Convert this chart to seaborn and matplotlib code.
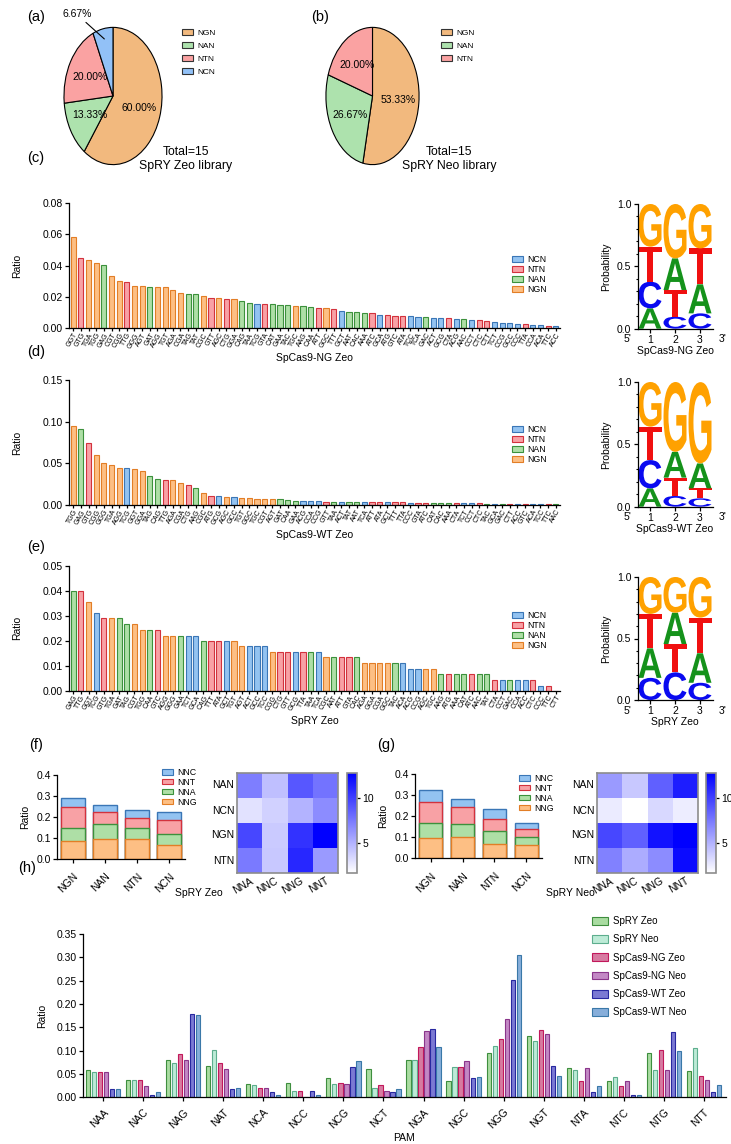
import numpy as np
import pandas as pd
import matplotlib
matplotlib.use("Agg")
import matplotlib.pyplot as plt
import seaborn as sns
from matplotlib.patches import Patch, PathPatch
from matplotlib.textpath import TextPath
from matplotlib.font_manager import FontProperties
from matplotlib.transforms import Affine2D
from matplotlib.colors import LinearSegmentedColormap

# ---------------- data ----------------
pie_a_labels = ["NGN", "NAN", "NTN", "NCN"]
pie_a_values = [60.00, 13.33, 20.00, 6.67]
pie_b_labels = ["NGN", "NAN", "NTN"]
pie_b_values = [53.33, 26.67, 20.00]

c_labels = ["GGT", "GTG", "TGA", "TGG", "GAG", "CGT", "CGG", "TTG", "GGG", "AGT", "GAT", "AGG", "TGT", "AGA",
            "CGA", "TAG", "TAT", "CGC", "GTT", "AGC", "CTG", "GGA", "CAG", "TAA", "TCG", "GTA", "CAT", "GAA",
            "TAC", "TGC", "AAG", "CAA", "ATT", "GGC", "TTT", "GCT", "AAT", "CAC", "AAA", "ATC", "GCA", "ATG",
            "GTC", "ATA", "TCC", "TCA", "GAC", "ACT", "GCG", "CTA", "ACG", "AAC", "CCT", "CTC", "CTT", "TCT",
            "CCG", "GCC", "CCC", "TTA", "CCA", "ACA", "TTC", "ACC"]
c_values = [0.0584, 0.0446, 0.0433, 0.0414, 0.0401, 0.0331, 0.0299, 0.0293, 0.0271, 0.0271, 0.0261, 0.0261,
            0.0261, 0.0242, 0.0223, 0.0218, 0.0218, 0.0204, 0.0195, 0.0193, 0.0189, 0.0184, 0.0172, 0.0161,
            0.0157, 0.0157, 0.0153, 0.0146, 0.0146, 0.0142, 0.0142, 0.0136, 0.0129, 0.0129, 0.0123, 0.0110,
            0.0104, 0.0104, 0.0097, 0.0096, 0.0085, 0.0085, 0.0078, 0.0078, 0.0078, 0.0072, 0.0072, 0.0066,
            0.0066, 0.0066, 0.0059, 0.0059, 0.0053, 0.0053, 0.0047, 0.0038, 0.0034, 0.0034, 0.0028, 0.0028,
            0.0021, 0.0021, 0.0017, 0.0012]

d_labels = ["TGG", "GAG", "GTG", "CGG", "GGG", "TGA", "AGG", "TCG", "GGT", "GGA", "TAG", "CAG", "TTG", "AGA",
            "CGA", "CTG", "AAG", "CGC", "ATG", "GCG", "AGC", "GCC", "TGT", "GGC", "TGC", "CGT", "AGT", "GAT",
            "CAA", "GAA", "ACG", "CCA", "CCG", "GTT", "TAA", "ACT", "TAT", "AAT", "TCA", "ATT", "ATA", "GCT",
            "TTT", "TTA", "CCC", "GTA", "ATC", "CAT", "CAC", "AAA", "CTA", "TCT", "CCT", "CTC", "TAC", "GCA",
            "GAC", "CTT", "ACC", "GTC", "ACA", "TCC", "TTC", "AAC"]
d_values = [0.0952, 0.0912, 0.0740, 0.0600, 0.0500, 0.0480, 0.0440, 0.0440, 0.0428, 0.0404, 0.0344, 0.0308,
            0.0296, 0.0296, 0.0264, 0.0244, 0.0200, 0.0144, 0.0104, 0.0104, 0.0092, 0.0092, 0.0080, 0.0080,
            0.0072, 0.0072, 0.0068, 0.0068, 0.0056, 0.0052, 0.0050, 0.0050, 0.0049, 0.0042, 0.0041, 0.0041,
            0.0040, 0.0040, 0.0039, 0.0036, 0.0036, 0.0033, 0.0031, 0.0031, 0.0030, 0.0030, 0.0029, 0.0027,
            0.0026, 0.0026, 0.0025, 0.0022, 0.0021, 0.0020, 0.0018, 0.0017, 0.0016, 0.0015, 0.0014, 0.0013,
            0.0012, 0.0011, 0.0009, 0.0007]

e_labels = ["GAG", "TTG", "GGT", "TCG", "GTG", "TGA", "GAT", "TAG", "CGT", "TGG", "CAA", "GTC", "AGG", "GGG",
            "GAA", "TCT", "GCA", "CAG", "TTT", "ATA", "GCT", "TGT", "AGT", "ACT", "GCC", "TCC", "CGG", "CTG",
            "GTT", "GCG", "TTA", "TAA", "TCA", "CGC", "AAT", "ATT", "GTA", "CAC", "AGA", "GGA", "CGA", "GGC",
            "TAC", "ACA", "ACG", "CCG", "AGC", "TGC", "AAG", "ATG", "AAA", "CAT", "ATC", "AAC", "TAT", "CTA",
            "CCT", "GAC", "CCA", "ACC", "CTC", "CCC", "TTC", "CTT"]
e_values = [0.0400, 0.0400, 0.0356, 0.0310, 0.0290, 0.0290, 0.0290, 0.0265, 0.0265, 0.0243, 0.0243, 0.0243,
            0.0220, 0.0220, 0.0220, 0.0220, 0.0220, 0.0200, 0.0200, 0.0200, 0.0200, 0.0200, 0.0177, 0.0177,
            0.0177, 0.0177, 0.0155, 0.0155, 0.0155, 0.0155, 0.0155, 0.0155, 0.0155, 0.0133, 0.0133, 0.0133,
            0.0133, 0.0133, 0.0109, 0.0109, 0.0109, 0.0109, 0.0109, 0.0109, 0.0087, 0.0087, 0.0087, 0.0087,
            0.0065, 0.0065, 0.0065, 0.0065, 0.0065, 0.0065, 0.0065, 0.0043, 0.0043, 0.0043, 0.0043, 0.0043,
            0.0043, 0.0020, 0.0020, 0.0000]

logo_letters = ["A", "C", "G", "T"]
logo_ng_zeo = {"A": [0.163, 0.254, 0.233], "C": [0.214, 0.096, 0.123],
               "G": [0.342, 0.436, 0.356], "T": [0.281, 0.214, 0.288]}
logo_wt_zeo = {"A": [0.147, 0.207, 0.200], "C": [0.227, 0.086, 0.067],
               "G": [0.358, 0.560, 0.652], "T": [0.268, 0.147, 0.080]}
logo_spry_zeo = {"A": [0.240, 0.255, 0.240], "C": [0.180, 0.225, 0.140],
                 "G": [0.300, 0.290, 0.330], "T": [0.280, 0.230, 0.290]}

stack_groups = ["NGN", "NAN", "NTN", "NCN"]
stack_layers = ["NNG", "NNA", "NNT", "NNC"]
zeo_nng = [0.085, 0.094, 0.093, 0.064]
zeo_nna = [0.063, 0.070, 0.052, 0.054]
zeo_nnt = [0.101, 0.058, 0.050, 0.067]
zeo_nnc = [0.043, 0.033, 0.038, 0.040]
neo_nng = [0.095, 0.098, 0.067, 0.060]
neo_nna = [0.072, 0.065, 0.063, 0.040]
neo_nnt = [0.100, 0.080, 0.057, 0.038]
neo_nnc = [0.057, 0.038, 0.046, 0.030]

heat_rows = ["NAN", "NCN", "NGN", "NTN"]
heat_cols = ["NNA", "NNC", "NNG", "NNT"]
heat_zeo = [[7.3, 4.5, 9.0, 7.8],
            [3.0, 3.7, 5.0, 6.7],
            [9.7, 4.0, 10.6, 12.8],
            [7.5, 4.1, 11.1, 6.1]]
heat_neo = [[6.1, 4.1, 8.6, 11.5],
            [2.6, 1.7, 3.4, 2.5],
            [9.7, 8.6, 12.0, 12.8],
            [7.2, 5.3, 6.7, 12.3]]

h_pams = ["NAA", "NAC", "NAG", "NAT", "NCA", "NCC", "NCG", "NCT",
          "NGA", "NGC", "NGG", "NGT", "NTA", "NTC", "NTG", "NTT"]
h_series = ["SpRY Zeo", "SpRY Neo", "SpCas9-NG Zeo", "SpCas9-NG Neo", "SpCas9-WT Zeo", "SpCas9-WT Neo"]
h_spry_zeo = [0.059, 0.037, 0.079, 0.068, 0.028, 0.031, 0.042, 0.061, 0.080, 0.034, 0.096, 0.131, 0.062, 0.036, 0.095, 0.056]
h_spry_neo = [0.054, 0.037, 0.074, 0.101, 0.026, 0.014, 0.028, 0.020, 0.080, 0.065, 0.110, 0.121, 0.059, 0.043, 0.058, 0.106]
h_ng_zeo = [0.054, 0.037, 0.093, 0.074, 0.019, 0.014, 0.031, 0.026, 0.107, 0.066, 0.124, 0.145, 0.034, 0.024, 0.101, 0.046]
h_ng_neo = [0.054, 0.024, 0.080, 0.061, 0.019, 0.000, 0.028, 0.014, 0.142, 0.077, 0.168, 0.136, 0.062, 0.034, 0.058, 0.037]
h_wt_zeo = [0.018, 0.005, 0.178, 0.017, 0.011, 0.014, 0.065, 0.011, 0.146, 0.041, 0.251, 0.067, 0.011, 0.006, 0.140, 0.012]
h_wt_neo = [0.018, 0.011, 0.176, 0.021, 0.005, 0.004, 0.078, 0.017, 0.107, 0.043, 0.306, 0.046, 0.025, 0.006, 0.099, 0.026]

# ---------------- styles ----------------
W, H = 731, 1144
sns.set_theme(style="ticks")
plt.rcParams["font.family"] = ["Liberation Sans", "DejaVu Sans"]
plt.rcParams.update({
    "axes.linewidth": 0.9, "xtick.major.width": 0.9, "ytick.major.width": 0.9,
    "xtick.major.size": 3, "ytick.major.size": 3, "xtick.major.pad": 1.5, "ytick.major.pad": 1.5,
    "font.size": 7.5, "xtick.labelsize": 7.5, "ytick.labelsize": 7.5, "axes.labelsize": 7.5,
    "axes.edgecolor": "black", "xtick.color": "black", "ytick.color": "black", "text.color": "black",
    "axes.labelcolor": "black", "legend.frameon": False,
})

cls_fill = {"NGN": "#FDBF84", "NAN": "#AEDFA6", "NTN": "#F8A1A5", "NCN": "#93C3F1"}
cls_edge = {"NGN": "#E27E26", "NAN": "#3C913C", "NTN": "#D3323D", "NCN": "#3A76B6"}
pie_fill = {"NGN": "#F2B97E", "NAN": "#ADE2AD", "NTN": "#FAA2A2", "NCN": "#92C1F7"}
layer_fill = {"NNG": "#FDBF84", "NNA": "#AEDFA6", "NNT": "#F8A1A5", "NNC": "#93C3F1"}
layer_edge = {"NNG": "#E27E26", "NNA": "#3C913C", "NNT": "#D3323D", "NNC": "#3A76B6"}
h_fill = ["#A9DCA1", "#BDEBD7", "#D77BA1", "#C388C5", "#7B79D3", "#87AEDA"]
h_edge = ["#3E8E3E", "#5DAE8E", "#C2185B", "#8A358A", "#2828A0", "#3A78A8"]
logo_colors = {"A": "#15921B", "C": "#0A0AF0", "G": "#FFA100", "T": "#F01010"}

fig = plt.figure(figsize=(W / 100, H / 100), dpi=100)


def rect(x0, y0, x1, y1):
    return [x0 / W, 1 - y1 / H, (x1 - x0) / W, (y1 - y0) / H]


def fig_xy(x, y):
    return (x / W, 1 - y / H)


def panel_label(txt, x, y):
    fig.text(x / W, 1 - y / H, txt, fontsize=10.5, ha="center", va="center")


# ---------------- pies ----------------
def draw_pie(box, labels, values, leg_xy, text_xy, lib):
    ax = fig.add_axes(rect(*box))
    cols = [pie_fill[l] for l in labels]
    wedges, texts, autotexts = ax.pie(
        values, colors=cols, startangle=90, counterclock=False,
        wedgeprops=dict(edgecolor="black", linewidth=0.8),
        autopct=lambda p: f"{p:.2f}%" if p > 10 else "", pctdistance=0.55,
        textprops=dict(fontsize=7.5))
    ax.set_aspect("auto")
    ax.set_xlim(-1.02, 1.02)
    ax.set_ylim(-1.02, 1.02)
    handles = [Patch(facecolor=pie_fill[l], edgecolor="#333333", linewidth=0.8, label=l) for l in labels]
    fig.legend(handles=handles, loc="upper left", bbox_to_anchor=fig_xy(*leg_xy), fontsize=6,
               handlelength=1.3, handleheight=0.75, labelspacing=0.6, handletextpad=0.6,
               borderpad=0, borderaxespad=0)
    fig.text(*fig_xy(text_xy[0], text_xy[1]), "Total=15", fontsize=8.8, ha="center", va="center")
    fig.text(*fig_xy(text_xy[0], text_xy[1] + 14), lib, fontsize=8.8, ha="center", va="center")
    return ax, wedges


ax_a, wa = draw_pie((63, 26, 163, 166), pie_a_labels, pie_a_values, (182, 29), (186, 152), "SpRY Zeo library")
ang = np.deg2rad((wa[3].theta1 + wa[3].theta2) / 2)
ax_a.annotate(f"{pie_a_values[3]:.2f}%", xy=(0.85 * np.cos(ang), 0.85 * np.sin(ang)), xytext=(-0.74, 1.12),
              ha="center", va="bottom", fontsize=7.5, annotation_clip=False,
              arrowprops=dict(arrowstyle="-", color="black", lw=0.8, shrinkA=0, shrinkB=0))
ax_b, wb = draw_pie((325, 26, 420, 166), pie_b_labels, pie_b_values, (441, 29), (449, 152), "SpRY Neo library")
panel_label("(a)", 36, 17)
panel_label("(b)", 320, 17)


# ---------------- ranked bars ----------------
def ranked_bar(box, labels, values, ymax, ystep, xlabel, leg_xy):
    ax = fig.add_axes(rect(*box))
    classes = ["N" + l[1] + "N" for l in labels]
    df = pd.DataFrame({"pam": labels, "ratio": values, "cls": classes})
    sns.barplot(data=df, x="pam", y="ratio", hue="cls", order=labels,
                hue_order=["NCN", "NTN", "NAN", "NGN"], palette=cls_fill, dodge=False,
                width=0.68, saturation=1, linewidth=0.8, errorbar=None, legend=False, ax=ax)
    for p in ax.patches:
        i = int(round(p.get_x() + p.get_width() / 2))
        p.set_edgecolor(cls_edge[classes[i]])
    ax.set_xlim(-0.55, len(labels) - 0.45)
    ax.set_ylim(0, ymax)
    ticks = np.arange(0, ymax + 1e-9, ystep)
    ax.set_yticks(ticks)
    ax.set_yticklabels([f"{t:.2f}" for t in ticks])
    ax.tick_params(axis="x", labelsize=5, rotation=60, length=2, pad=0.5)
    for t in ax.get_xticklabels():
        t.set_ha("right")
        t.set_rotation_mode("anchor")
    ax.set_xlabel(xlabel, fontsize=7.5)
    ax.set_ylabel("Ratio", fontsize=7.5)
    ax.yaxis.set_label_coords(-0.095, 0.5)
    ax.xaxis.set_label_coords(0.5, -0.2)
    sns.despine(ax=ax)
    handles = [Patch(facecolor=cls_fill[c], edgecolor=cls_edge[c], linewidth=0.8, label=c)
               for c in ["NCN", "NTN", "NAN", "NGN"]]
    fig.legend(handles=handles, loc="upper left", bbox_to_anchor=fig_xy(*leg_xy), fontsize=6.3,
               handlelength=1.2, handleheight=0.6, labelspacing=0.12, handletextpad=0.5,
               borderpad=0, borderaxespad=0)
    return ax


ranked_bar((69, 202.7, 560, 328.3), c_labels, c_values, 0.08, 0.02, "SpCas9-NG Zeo", (512, 255))
ranked_bar((69, 380, 560, 505), d_labels, d_values, 0.15, 0.05, "SpCas9-WT Zeo", (512, 425))
ranked_bar((69, 565.7, 560, 690.7), e_labels, e_values, 0.05, 0.01, "SpRY Zeo", (512, 611))
panel_label("(c)", 36, 158)
panel_label("(d)", 36, 352)
panel_label("(e)", 36, 547)

# ---------------- logos ----------------
logo_fp = FontProperties(family="Liberation Sans", weight="bold")


def draw_logo(box, probs, xlabel):
    ax = fig.add_axes(rect(*box))
    df = pd.DataFrame(probs, index=[1, 2, 3])
    for pos, row in df.iterrows():
        y0 = 0.0
        for letter in row.sort_values().index:
            h = row[letter]
            tp = TextPath((0, 0), letter, size=1, prop=logo_fp)
            bb = tp.get_extents()
            tr = (Affine2D().translate(-bb.x0, -bb.y0)
                  .scale(0.92 / bb.width, h / bb.height)
                  .translate(pos - 0.46, y0))
            ax.add_patch(PathPatch(tr.transform_path(tp), facecolor=logo_colors[letter],
                                   edgecolor="none"))
            y0 += h
    ax.set_xlim(0.5, 3.5)
    ax.set_ylim(0, 1)
    ax.set_xticks([1, 2, 3])
    ax.set_yticks([0, 0.5, 1.0])
    ax.set_yticklabels(["0.0", "0.5", "1.0"])
    ax.set_yticks(np.arange(0, 1.01, 0.1), minor=True)
    ax.tick_params(axis="y", which="minor", length=1.8, width=0.8)
    ax.text(-0.13, -0.045, "5'", transform=ax.transAxes, ha="center", va="top", fontsize=7.5)
    ax.text(1.13, -0.045, "3'", transform=ax.transAxes, ha="center", va="top", fontsize=7.5)
    ax.set_ylabel("Probability", fontsize=7.5)
    ax.set_xlabel(xlabel, fontsize=7.5, labelpad=0.5)
    sns.despine(ax=ax)
    return ax


draw_logo((637.5, 204, 712.5, 328.7), logo_ng_zeo, "SpCas9-NG Zeo")
draw_logo((637.5, 382, 712.5, 506.7), logo_wt_zeo, "SpCas9-WT Zeo")
draw_logo((637.5, 577, 712.5, 700), logo_spry_zeo, "SpRY Zeo")


# ---------------- stacked bars + heatmaps ----------------
def stacked(box, layers, leg_xy, lab_xy, libname):
    ax = fig.add_axes(rect(*box))
    cum = np.cumsum(np.array(layers), axis=0)
    for k in range(len(stack_layers) - 1, -1, -1):
        name = stack_layers[k]
        sns.barplot(x=stack_groups, y=cum[k], color=layer_fill[name], edgecolor=layer_edge[name],
                    linewidth=1.0, width=0.72, saturation=1, errorbar=None, ax=ax)
    ax.set_xlim(-0.5, 3.5)
    ax.set_ylim(0, 0.4)
    ax.set_yticks([0, 0.1, 0.2, 0.3, 0.4])
    ax.set_yticklabels(["0.0", "0.1", "0.2", "0.3", "0.4"])
    ax.tick_params(axis="x", rotation=45, pad=6)
    for t in ax.get_xticklabels():
        t.set_ha("right")
        t.set_rotation_mode("anchor")
    ax.set_ylabel("Ratio")
    ax.yaxis.set_label_coords(-0.21, 0.5)
    sns.despine(ax=ax)
    handles = [Patch(facecolor=layer_fill[c], edgecolor=layer_edge[c], linewidth=0.8, label=c)
               for c in ["NNC", "NNT", "NNA", "NNG"]]
    fig.legend(handles=handles, loc="upper left", bbox_to_anchor=fig_xy(*leg_xy), fontsize=6.3,
               handlelength=1.2, handleheight=0.55, labelspacing=0.1, handletextpad=0.5,
               borderpad=0, borderaxespad=0)
    fig.text(*fig_xy(*lab_xy), libname, fontsize=7.5, ha="center", va="center")
    return ax


heat_cmap = LinearSegmentedColormap.from_list("wb", ["#FFFFFF", "#0000FF"])


def heat(box, cbox, values):
    ax = fig.add_axes(rect(*box))
    cax = fig.add_axes(rect(*cbox))
    df = pd.DataFrame(values, index=heat_rows, columns=heat_cols)
    sns.heatmap(df, cmap=heat_cmap, vmin=1.7, vmax=12.8, ax=ax, cbar_ax=cax,
                cbar_kws=dict(ticks=[5, 10]))
    for s in ax.spines.values():
        s.set_visible(True)
        s.set_color("#8C8C8C")
        s.set_linewidth(1.2)
    ax.tick_params(length=0, pad=2)
    ax.set_yticklabels(heat_rows, rotation=0)
    ax.set_xticklabels(heat_cols, rotation=30, ha="right", rotation_mode="anchor")
    cax.tick_params(labelsize=7.5, length=2.5)
    cb = ax.collections[0].colorbar
    cb.outline.set_edgecolor("#8C8C8C")
    cb.outline.set_linewidth(1.2)
    return ax


stacked((57, 775, 185, 858.7), [zeo_nng, zeo_nna, zeo_nnt, zeo_nnc], (162, 768), (199, 893), "SpRY Zeo")
heat((237, 773, 338, 873), (347, 773, 357, 873), heat_zeo)
stacked((415, 774, 542, 858), [neo_nng, neo_nna, neo_nnt, neo_nnc], (519, 774), (570, 893), "SpRY Neo")
heat((597, 773, 698, 873), (706, 773, 716, 873), heat_neo)
panel_label("(f)", 36, 745)
panel_label("(g)", 386, 745)

# ---------------- grouped bars (h) ----------------
axh = fig.add_axes(rect(83, 934, 726, 1097.3))
h_vals = [h_spry_zeo, h_spry_neo, h_ng_zeo, h_ng_neo, h_wt_zeo, h_wt_neo]
dfh = pd.DataFrame([(p, s, v) for s, vals in zip(h_series, h_vals) for p, v in zip(h_pams, vals)],
                   columns=["pam", "series", "ratio"])
sns.barplot(data=dfh, x="pam", y="ratio", hue="series", order=h_pams, hue_order=h_series,
            palette=dict(zip(h_series, h_fill)), width=0.9, gap=0.3, saturation=1, linewidth=0.8,
            errorbar=None, legend=False, ax=axh)
for cont, ec in zip(axh.containers, h_edge):
    for b in cont:
        b.set_edgecolor(ec)
axh.set_xlim(-0.5, 15.55)
axh.set_ylim(0, 0.35)
yt = np.arange(0, 0.351, 0.05)
axh.set_yticks(yt)
axh.set_yticklabels([f"{t:.2f}" for t in yt])
axh.tick_params(axis="x", rotation=45, pad=4)
for t in axh.get_xticklabels():
    t.set_ha("right")
    t.set_rotation_mode("anchor")
axh.set_xlabel("PAM")
axh.set_ylabel("Ratio")
axh.yaxis.set_label_coords(-0.056, 0.5)
axh.xaxis.set_label_coords(0.5, -0.22)
sns.despine(ax=axh)
hh = [Patch(facecolor=f, edgecolor=e, linewidth=0.8, label=s) for s, f, e in zip(h_series, h_fill, h_edge)]
fig.legend(handles=hh, loc="upper left", bbox_to_anchor=fig_xy(592, 916), fontsize=7,
           handlelength=1.65, handleheight=0.85, labelspacing=0.85, handletextpad=0.5,
           borderpad=0, borderaxespad=0)
panel_label("(h)", 27, 868)

fig.savefig("out.png", dpi=100)
